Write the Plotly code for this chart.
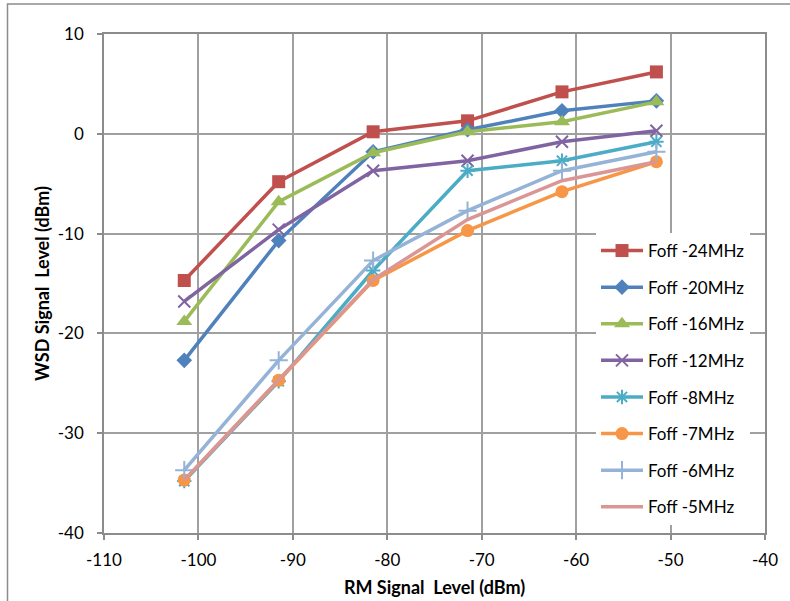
import plotly.graph_objects as go

# RM signal level (dBm) at each measurement step
rm_level = [-101.5, -91.5, -81.5, -71.5, -61.5, -51.5]

# WSD signal level (dBm) for each frequency offset
foff_24 = [-14.7, -4.8, 0.2, 1.3, 4.2, 6.2]
foff_20 = [-22.7, -10.7, -1.8, 0.4, 2.3, 3.3]
foff_16 = [-18.8, -6.8, -1.9, 0.2, 1.2, 3.2]
foff_12 = [-16.8, -9.6, -3.7, -2.7, -0.8, 0.3]
foff_8 = [-34.8, -24.8, -13.7, -3.7, -2.7, -0.8]
foff_7 = [-34.7, -24.7, -14.7, -9.7, -5.8, -2.8]
foff_6 = [-33.7, -22.7, -12.7, -7.7, -3.7, -1.8]
foff_5 = [-34.7, -24.7, -14.6, -8.6, -4.7, -2.8]

series_names = ["Foff -24MHz", "Foff -20MHz", "Foff -16MHz", "Foff -12MHz",
                "Foff -8MHz", "Foff -7MHz", "Foff -6MHz", "Foff -5MHz"]
series_values = [foff_24, foff_20, foff_16, foff_12, foff_8, foff_7, foff_6, foff_5]

x_ticks = [-110, -100, -90, -80, -70, -60, -50, -40]
x_tick_labels = ["-110", "-100", "-90", "-80", "-70", "-60", "-50", "-40"]
y_ticks = [-40, -30, -20, -10, 0, 10]
y_tick_labels = ["-40", "-30", "-20", "-10", "0", "10"]

colors = ["#C0504D", "#4F81BD", "#9BBB59", "#8064A2",
          "#4BACC6", "#F79646", "#95B3D7", "#D99694"]
symbols = ["square", "diamond", "triangle-up", "x-thin",
           "asterisk", "circle", "cross-thin", None]
sizes = [13, 12, 14, 12, 12, 13, 13, 0]

FONT = "Lato, Liberation Sans, sans-serif"

fig = go.Figure()
for name, vals, col, sym, sz in zip(series_names, series_values, colors, symbols, sizes):
    if sym is None:
        mode = "lines"
        marker = None
    else:
        mode = "lines+markers"
        thin = sym in ("x-thin", "asterisk", "cross-thin")
        marker = dict(symbol=sym, size=sz, color=col,
                      line=dict(color=col, width=2 if thin else 0))
    fig.add_trace(go.Scatter(
        x=rm_level, y=vals, name=name, mode=mode,
        line=dict(color=col, width=3.5),
        marker=marker, legendgroup=name,
    ))

ML, MR, MT, MB = 104, 25, 34, 68
W, H = 790, 601
pw = W - ML - MR
ph = H - MT - MB

axis_common = dict(
    showgrid=True, gridcolor="#A0A0A0", gridwidth=1.5,
    showline=True, linecolor="#8C8C8C", linewidth=1.5, mirror=True,
    ticks="outside", ticklen=5, tickcolor="#8C8C8C", tickwidth=1.5,
    zeroline=False, automargin=False,
    tickfont=dict(family=FONT, size=17, color="#000000"),
)

fig.update_layout(
    width=W, height=H,
    margin=dict(l=ML, r=MR, t=MT, b=MB, autoexpand=False),
    paper_bgcolor="white", plot_bgcolor="white",
    font=dict(family=FONT, color="#000000"),
    xaxis=dict(range=[-110, -40], tickvals=x_ticks, ticktext=x_tick_labels,
               ticklabelstandoff=6,
               title=dict(text="RM Signal\u00a0 Level (dBm)",
                          font=dict(family=FONT, size=18, weight="bold"),
                          standoff=12),
               **axis_common),
    yaxis=dict(range=[-40, 10], tickvals=y_ticks, ticktext=y_tick_labels,
               ticklabelstandoff=10,
               title=dict(text="WSD Signal\u00a0 Level (dBm)",
                          font=dict(family=FONT, size=18, weight="bold"),
                          standoff=4),
               **axis_common),
    legend=dict(
        x=(596 - ML) / pw, y=(H - MB - 233) / ph,
        xanchor="left", yanchor="top",
        bgcolor="white", borderwidth=0,
        font=dict(family=FONT, size=17, color="#000000"),
        traceorder="grouped", tracegroupgap=11.5,
        itemwidth=42,
    ),
    showlegend=True,
)

# outer chart frame
fig.add_shape(type="rect", xref="paper", yref="paper",
              x0=(7.5 - ML) / pw, x1=(W + 10 - ML) / pw,
              y0=-(MB + 10) / ph, y1=(H - MB - 4) / ph,
              line=dict(color="#8C8C8C", width=1.5), fillcolor="rgba(0,0,0,0)",
              layer="below")

fig.write_html("out.html")
